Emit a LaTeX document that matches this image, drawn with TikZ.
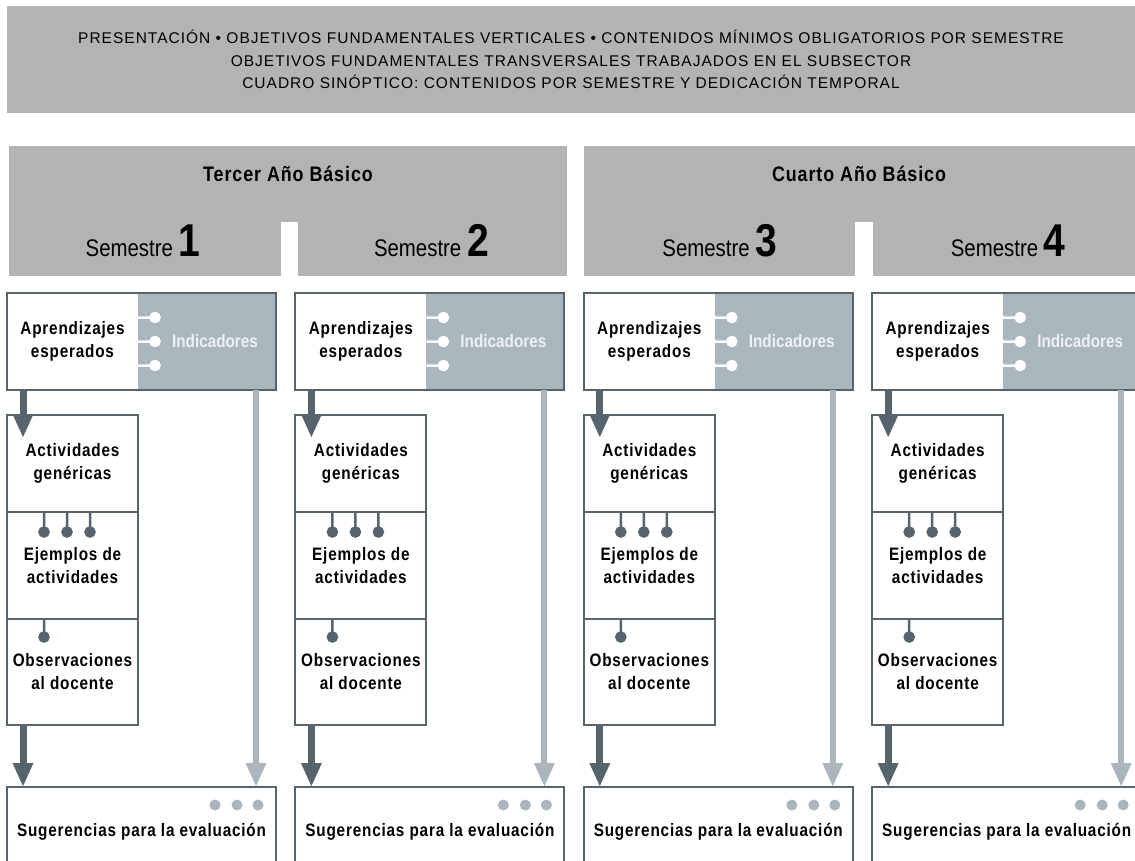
\documentclass[tikz,border=0pt]{standalone}
\usepackage{fontspec}
\setmainfont[FakeStretch=0.85,LetterSpace=4.5]{Liberation Sans}
\newfontfamily\banfont[LetterSpace=6.5]{Liberation Sans}
\newfontfamily\semfont[FakeStretch=0.85]{Liberation Sans}
\usetikzlibrary{arrows.meta,positioning}

\definecolor{bangray}{HTML}{B2B4B4}
\definecolor{indgray}{HTML}{AAB6BD}
\definecolor{slate}{HTML}{56646E}
\definecolor{indtext}{HTML}{EEF1F3}

\begin{document}
\begin{tikzpicture}[x=1pt,y=-1pt,>={Triangle[width=19pt,length=24pt]},
    every node/.style={outer sep=0pt,inner sep=0pt},
    hdr/.style={fill=bangray,anchor=north west},
    txt/.style={font=\fontsize{18}{23}\selectfont\bfseries,align=center},
    cell/.style={txt,draw=slate,line width=2pt,fill=white,anchor=north west,minimum width=131pt},
    aprcell/.style={txt,fill=white,anchor=north west,minimum width=131pt,minimum height=97pt},
    indcell/.style={fill=indgray,minimum width=138pt,minimum height=97pt},
    frame/.style={draw=slate,line width=2pt},
    darr/.style={->,draw=slate,line width=7pt},
    larr/.style={->,draw=indgray,line width=6pt},
    wdot/.style={draw=white,fill=white,line width=2.5pt},
    ddot/.style={draw=slate,fill=slate,line width=2.5pt}]

    \useasboundingbox (0,0) rectangle (1135,861);
    \clip (0,0) rectangle (1135,861);

    \node[hdr,minimum width=1128pt,minimum height=107pt] (ban) at (7,6) {};
    \node[align=center,font=\banfont\fontsize{15.5}{22.5}\selectfont] (bant) at (ban.center)
        {PRESENTACIÓN • OBJETIVOS FUNDAMENTALES VERTICALES • CONTENIDOS MÍNIMOS OBLIGATORIOS POR SEMESTRE\\
         OBJETIVOS FUNDAMENTALES TRANSVERSALES TRABAJADOS EN EL SUBSECTOR\\
         CUADRO SINÓPTICO: CONTENIDOS POR SEMESTRE Y DEDICACIÓN TEMPORAL};

    \node[hdr,minimum width=558pt,minimum height=130pt] (yr1) at (9,146) {};
    \node[hdr,minimum width=560pt,minimum height=130pt] (yr2) at (584,146) {};
    \node[txt,font=\fontsize{21}{23}\selectfont\bfseries] (yrt1) at ([yshift=-28pt]yr1.north) {Tercer Año Básico};
    \node[txt,font=\fontsize{21}{23}\selectfont\bfseries] (yrt2) at ([yshift=-28pt]yr1.north -| 859,0) {Cuarto Año Básico};
    \fill[white] (281,222) rectangle (298,277);
    \fill[white] (855,222) rectangle (873,277);

    \foreach \c/\L in {1/7,2/295.4,3/583.8,4/872.2}
    {
        \node[anchor=base,font=\semfont\fontsize{24}{24}\selectfont] (sem\c) at (\L+136,256)
            {Semestre \textbf{\fontsize{46}{46}\selectfont\c}};

        \node[aprcell] (apr\c) at (\L,293) {Aprendizajes\\esperados};
        \node[indcell] (ind\c) [right=0pt of apr\c] {};
        \node[txt,font=\semfont\fontsize{18}{20}\selectfont\bfseries,text=indtext] (indt\c) at ([xshift=8pt]ind\c.center) {Indicadores};
        \draw[frame] (apr\c.north west) rectangle (ind\c.south east);
        \foreach \dy in {-24,0,24}
            \filldraw[wdot] ([yshift=\dy pt]ind\c.west) -- ++(17,0) circle[radius=4.5pt];

        \node[cell,minimum height=97pt] (act\c) at (\L,415) {Actividades\\genéricas};
        \node[cell,minimum height=107pt] (ejm\c) [below=0pt of act\c] {Ejemplos de\\actividades};
        \node[cell,minimum height=106pt] (obs\c) [below=0pt of ejm\c] {Observaciones\\al docente};
        \foreach \dx in {37,60,83}
            \filldraw[ddot] ([xshift=\dx pt]ejm\c.north west) -- ++(0,20) circle[radius=4.5pt];
        \filldraw[ddot] ([xshift=37pt]obs\c.north west) -- ++(0,18) circle[radius=4.5pt];

        \node[cell,minimum width=269pt,minimum height=90pt] (sug\c) at (\L,787) {Sugerencias para la evaluación};
        \foreach \dx in {-61,-39,-18}
            \fill[indgray] ([xshift=\dx pt,yshift=-18pt]sug\c.north east) circle[radius=5.5pt];

        \draw[darr] ([xshift=16pt]apr\c.south west) -- ([xshift=16pt,yshift=-23pt]act\c.north west);
        \draw[darr] ([xshift=16pt]obs\c.south west) -- ([xshift=16pt]sug\c.north west);
        \draw[larr] ([xshift=-20pt]ind\c.south east) -- ([xshift=-20pt]sug\c.north east);
    }

\end{tikzpicture}
\end{document}
